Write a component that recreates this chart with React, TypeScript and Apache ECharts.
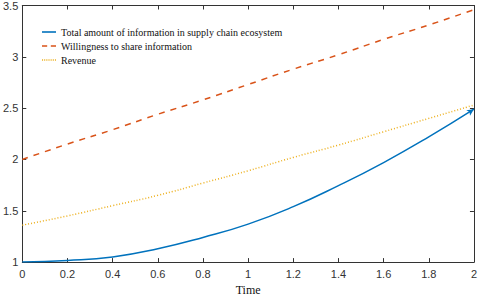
import React, { useEffect, useRef } from "react";
import * as echarts from "echarts";

const times = [0, 0.2, 0.4, 0.6, 0.8, 1.0, 1.2, 1.4, 1.6, 1.8, 2.0];
const totalInfo = [1.0, 1.015, 1.05, 1.13, 1.24, 1.37, 1.54, 1.745, 1.97, 2.22, 2.49];
const willingness = [2.0, 2.15, 2.29, 2.44, 2.58, 2.73, 2.88, 3.02, 3.17, 3.31, 3.46];
const revenue = [1.36, 1.45, 1.55, 1.65, 1.77, 1.89, 2.02, 2.14, 2.27, 2.4, 2.53];
const seriesNames = [
  "Total amount of information in supply chain ecosystem",
  "Willingness to share information",
  "Revenue",
];
const xTicks = [0, 0.2, 0.4, 0.6, 0.8, 1, 1.2, 1.4, 1.6, 1.8, 2];
const yTicks = [1, 1.5, 2, 2.5, 3, 3.5];

const ICON_SOLID = "path://M0,0 H14 V1.6 H0 Z";
const ICON_DASH = "path://M0,0 H5 V1.6 H0 Z M8.5,0 H13.5 V1.6 H8.5 Z";
const ICON_DOT =
  "path://M0,0 H1 V1.6 H0 Z M2,0 H3 V1.6 H2 Z M4,0 H5 V1.6 H4 Z M6,0 H7 V1.6 H6 Z M8,0 H9 V1.6 H8 Z M10,0 H11 V1.6 H10 Z M12,0 H13 V1.6 H12 Z";

export default function App() {
  const ref = useRef<HTMLDivElement>(null);
  useEffect(() => {
    if (!ref.current) return;
    const chart = echarts.init(ref.current, undefined, { renderer: "svg" });
    const axisColor = "#333333";
    const pairs = (ys: number[]) => times.map((t, i) => [t, ys[i]]);
    const blueData: any[] = pairs(totalInfo);
    const last = blueData[blueData.length - 1];
    blueData[blueData.length - 1] = {
      value: last,
      symbol: "arrow",
      symbolSize: [5, 7],
      symbolRotate: -56,
      itemStyle: { color: "#0072BD" },
    };
    const commonX = {
      type: "value" as const,
      min: xTicks[0],
      max: xTicks[xTicks.length - 1],
      interval: 0.2,
      splitLine: { show: false },
      axisLine: { show: true, onZero: false, lineStyle: { color: axisColor, width: 1 } },
      axisTick: { show: true, inside: true, length: 4, lineStyle: { color: axisColor } },
    };
    const commonY = {
      type: "value" as const,
      min: yTicks[0],
      max: yTicks[yTicks.length - 1],
      interval: 0.5,
      splitLine: { show: false },
      axisLine: { show: true, onZero: false, lineStyle: { color: axisColor, width: 1 } },
      axisTick: { show: true, inside: true, length: 4, lineStyle: { color: axisColor } },
    };
    chart.setOption({
      animation: false,
      backgroundColor: "#ffffff",
      grid: { left: 22, right: 5, top: 5, bottom: 30, containLabel: false },
      legend: {
        left: 37,
        top: 22,
        orient: "vertical",
        itemGap: 4,
        itemWidth: 14,
        itemHeight: 11,
        textStyle: { fontFamily: "Liberation Serif", fontSize: 10, color: "#111111", padding: [0, 0, 0, 0] },
        data: [
          { name: seriesNames[0], icon: ICON_SOLID },
          { name: seriesNames[1], icon: ICON_DASH },
          { name: seriesNames[2], icon: ICON_DOT },
        ],
      },
      xAxis: [
        {
          ...commonX,
          name: "Time",
          nameLocation: "middle",
          nameGap: 17,
          nameTextStyle: { fontFamily: "Liberation Serif", fontSize: 12, color: "#111111" },
          axisLabel: {
            fontFamily: "Liberation Sans",
            fontSize: 11,
            color: "#333333",
            margin: 6,
            formatter: (v: number) => String(Math.round(v * 10) / 10),
          },
        },
        { ...commonX, position: "top", axisLabel: { show: false } },
      ],
      yAxis: [
        {
          ...commonY,
          axisLabel: {
            fontFamily: "Liberation Sans",
            fontSize: 11,
            color: "#333333",
            margin: 4,
            formatter: (v: number) => String(Math.round(v * 10) / 10),
          },
        },
        { ...commonY, position: "right", axisLabel: { show: false } },
      ],
      series: [
        {
          name: seriesNames[0],
          type: "line",
          smooth: true,
          symbol: "none",
          data: blueData,
          lineStyle: { color: "#0072BD", width: 1.5 },
          itemStyle: { color: "#0072BD" },
        },
        {
          name: seriesNames[1],
          type: "line",
          smooth: true,
          symbol: "none",
          data: pairs(willingness),
          lineStyle: { color: "#D95319", width: 1.5, type: [6, 6] },
          itemStyle: { color: "#D95319" },
        },
        {
          name: seriesNames[2],
          type: "line",
          smooth: true,
          symbol: "none",
          data: pairs(revenue),
          lineStyle: { color: "#EDB120", width: 1.5, type: [1, 2] },
          itemStyle: { color: "#EDB120" },
        },
      ],
    });
    return () => chart.dispose();
  }, []);
  return <div ref={ref} style={{ width: 480, height: 301, position: "absolute", left: 0, top: 0 }} />;
}
